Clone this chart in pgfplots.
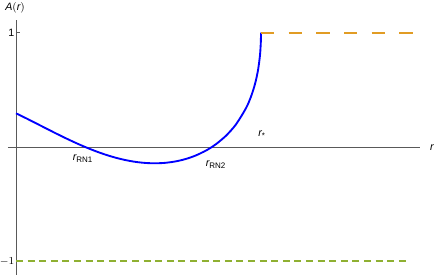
\documentclass[border=0pt]{standalone}
\usepackage{pgfplots}
\pgfplotsset{compat=1.18}
\usepackage{fontspec}
\setmainfont{Liberation Sans}
\definecolor{mblue}{rgb}{0,0,1}
\definecolor{morange}{HTML}{E19C24}
\definecolor{mgreen}{HTML}{8FB032}
\begin{document}
\begin{tikzpicture}
\begin{axis}[
  scale only axis, width=309pt, height=191.25pt,
  at={(0,0)}, anchor=south west,
  xmin=-0.08, xmax=4.04, ymin=-1.12, ymax=1.11,
  axis lines=middle,
  axis line style={black!65, line width=0.6pt, -},
  xtick=\empty,
  ytick={-1,1}, yticklabels={$-1$,1},
  tick style={black!65, line width=0.6pt},
  major tick length=3pt,
  tick align=inside,
  yticklabel style={font=\fontsize{8}{9}\selectfont, inner sep=1pt},
  /pgf/number format/assume math mode=true,
  clip=false,
]
\addplot[mblue, line width=1.4pt, smooth] coordinates {
(0,0.294) (0.1,0.2512) (0.2,0.2070) (0.3,0.1623) (0.4,0.1181) (0.5,0.0752) (0.6,0.0344) (0.69,0)
(0.8,-0.0383) (0.9,-0.0690) (1.0,-0.0950) (1.1,-0.1160) (1.2,-0.1313) (1.3,-0.1405) (1.4,-0.1431)
(1.5,-0.1384) (1.6,-0.1259) (1.7,-0.1048) (1.8,-0.0739) (1.9,-0.0317) (1.96,0) (2.0,0.0242)
(2.1,0.0980) (2.2,0.1972) (2.3,0.3392) (2.35,0.4401) (2.39,0.5503) (2.42,0.6704) (2.44,0.8028)
(2.448,0.9095) (2.449,0.9355) (2.45,1.0)
};
\addplot[morange, line width=1.4pt, dash pattern=on 10pt off 10.75pt] coordinates {(2.45,1) (3.97,1)};
\addplot[mgreen, line width=1.4pt, dash pattern=on 5.2pt off 3.5pt] coordinates {(0,-1) (3.92,-1)};
\node[font=\fontsize{8}{9}\selectfont] at (axis cs:-0.01,1.22) {$\mathit{A}(\mathit{r})$};
\node[font=\fontsize{8}{9}\selectfont] at (axis cs:4.16,-0.01) {\itshape r};
\node[font=\fontsize{8}{9}\selectfont] at (axis cs:2.46,0.105) {\itshape r\textsubscript{\upshape *}};
\node[font=\fontsize{8}{9}\selectfont] at (axis cs:0.67,-0.105) {\itshape r\textsubscript{\upshape RN1}};
\node[font=\fontsize{8}{9}\selectfont] at (axis cs:2.0,-0.157) {\itshape r\textsubscript{\upshape RN2}};
\end{axis}
\pgfresetboundingbox
\path (-6pt,0) rectangle (321pt,206.25pt);
\end{tikzpicture}
\end{document}
